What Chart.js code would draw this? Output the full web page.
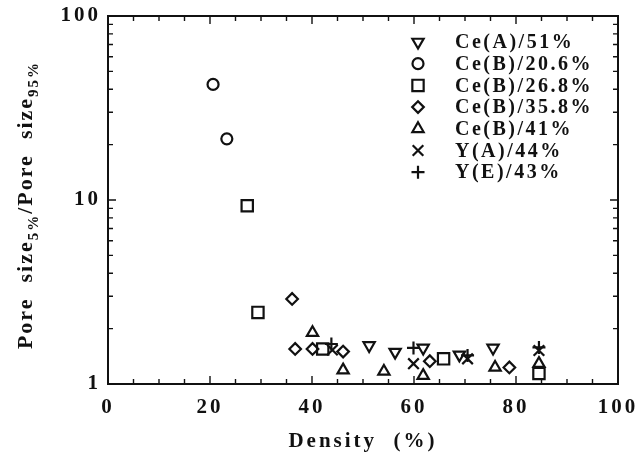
<!DOCTYPE html>
<html>
<head>
<meta charset="utf-8">
<script src="https://cdn.jsdelivr.net/npm/chart.js@4.4.1/dist/chart.umd.min.js"></script>
<style>
  html, body { margin: 0; padding: 0; background: #fff; }
  #wrap { width: 641px; height: 459px; }
</style>
</head>
<body>
<div id="wrap"><canvas id="c" width="641" height="459"></canvas></div>
<script>
// Pore-size spread ratio versus sintered density, one series per powder / porosity
const seriesLabels = ['Ce(A)/51%', 'Ce(B)/20.6%', 'Ce(B)/26.8%', 'Ce(B)/35.8%', 'Ce(B)/41%', 'Y(A)/44%', 'Y(E)/43%'];

// [density %, ratio]
const ceA51  = [[51.2, 1.62], [56.3, 1.49], [61.8, 1.57], [68.9, 1.44], [75.5, 1.57]];
const ceB206 = [[20.6, 42.5], [23.3, 21.5]];
const ceB268 = [[27.3, 9.3], [29.4, 2.45], [42.1, 1.55], [65.8, 1.37], [84.5, 1.14]];
const ceB358 = [[36.1, 2.9], [36.7, 1.55], [40.1, 1.55], [46.1, 1.50], [63.1, 1.33], [78.7, 1.23]];
const ceB41  = [[40.1, 1.9], [46.1, 1.19], [54.1, 1.17], [61.8, 1.11], [75.9, 1.23], [84.5, 1.29]];
const yA44   = [[44.0, 1.53], [59.9, 1.29], [70.5, 1.37], [84.5, 1.52]];
const yE43   = [[43.8, 1.65], [59.9, 1.57], [70.5, 1.43], [84.5, 1.58]];

const xTickLabels = [0, 20, 40, 60, 80, 100];
const yTickLabels = [1, 10, 100];

const seriesData = [ceA51, ceB206, ceB268, ceB358, ceB41, yA44, yE43];
const markers = [
  { pointStyle: 'triangle', rotation: 180, radius: 6.5 },
  { pointStyle: 'circle',   rotation: 0,   radius: 5.5 },
  { pointStyle: 'rect',     rotation: 0,   radius: 8   },
  { pointStyle: 'rectRot',  rotation: 0,   radius: 5.8 },
  { pointStyle: 'triangle', rotation: 0,   radius: 6.5 },
  { pointStyle: 'crossRot', rotation: 0,   radius: 7.5 },
  { pointStyle: 'cross',    rotation: 0,   radius: 6.5 }
];

const SERIF = '"Liberation Serif", "DejaVu Serif", serif';
const INK = '#111';

const datasets = seriesData.map((pts, i) => ({
  label: seriesLabels[i],
  data: pts.map(p => ({ x: p[0], y: p[1] })),
  showLine: false,
  pointStyle: markers[i].pointStyle,
  rotation: markers[i].rotation,
  pointRadius: markers[i].radius,
  pointHoverRadius: markers[i].radius,
  pointBorderWidth: 2.2,
  borderColor: INK,
  backgroundColor: 'rgba(255,255,255,0)'
}));

// letter spacing for the typeset look of the labels
const spacing = {
  id: 'spacing',
  beforeDraw(chart) { chart.ctx.letterSpacing = '3px'; }
};

// frame plus inward ticks on all four sides
const frameTicks = {
  id: 'frameTicks',
  afterDraw(chart) {
    const { ctx, chartArea: a, scales: { x, y } } = chart;
    ctx.save();
    ctx.strokeStyle = INK;
    ctx.lineWidth = 2;
    ctx.strokeRect(a.left, a.top, a.right - a.left, a.bottom - a.top);
    ctx.lineWidth = 1.4;
    ctx.beginPath();
    x.ticks.forEach(t => {
      const px = x.getPixelForValue(t.value);
      const len = (t.value % 20 === 0) ? 8 : 5;
      ctx.moveTo(px, a.bottom); ctx.lineTo(px, a.bottom - len);
      ctx.moveTo(px, a.top);    ctx.lineTo(px, a.top + len);
    });
    y.ticks.forEach(t => {
      const py = y.getPixelForValue(t.value);
      const major = yTickLabels.includes(t.value);
      const len = major ? 8 : 5;
      ctx.moveTo(a.left, py);  ctx.lineTo(a.left + len, py);
      ctx.moveTo(a.right, py); ctx.lineTo(a.right - len, py);
    });
    ctx.stroke();
    ctx.restore();
  }
};

// y-axis title with subscripts
const yTitle = {
  id: 'yTitle',
  afterDraw(chart) {
    const ctx = chart.ctx;
    const parts = [
      { t: 'Pore  size', sub: false },
      { t: '5%', sub: true },
      { t: '/Pore  size', sub: false },
      { t: '95%', sub: true }
    ];
    const mainFont = 'bold 22px ' + SERIF;
    const subFont = 'bold 15px ' + SERIF;
    ctx.save();
    ctx.letterSpacing = '2px';
    let total = 0;
    parts.forEach(p => { ctx.font = p.sub ? subFont : mainFont; p.w = ctx.measureText(p.t).width; total += p.w; });
    const cx = 26, cy = 205;
    ctx.translate(cx, cy);
    ctx.rotate(-Math.PI / 2);
    ctx.fillStyle = INK;
    ctx.textBaseline = 'middle';
    ctx.textAlign = 'left';
    let pos = -total / 2;
    parts.forEach(p => {
      ctx.font = p.sub ? subFont : mainFont;
      ctx.fillText(p.t, pos, p.sub ? 8 : 0);
      pos += p.w;
    });
    ctx.restore();
  }
};

// legend drawn inside the plot, upper right
const insideLegend = {
  id: 'insideLegend',
  afterDraw(chart) {
    const ctx = chart.ctx;
    const mx = 418, tx = 455, y0 = 42, dy = 21.7;
    ctx.save();
    ctx.letterSpacing = '2.5px';
    ctx.font = 'bold 20px ' + SERIF;
    ctx.textBaseline = 'middle';
    ctx.textAlign = 'left';
    seriesLabels.forEach((lab, i) => {
      const yy = y0 + i * dy;
      ctx.strokeStyle = INK;
      ctx.fillStyle = 'rgba(255,255,255,0)';
      ctx.lineWidth = 2.2;
      Chart.helpers.drawPoint(ctx, {
        pointStyle: markers[i].pointStyle,
        rotation: markers[i].rotation,
        radius: markers[i].radius,
        borderWidth: 2.2
      }, mx, yy);
      ctx.fillStyle = INK;
      ctx.fillText(lab, tx, yy + 1);
    });
    ctx.restore();
  }
};

new Chart(document.getElementById('c'), {
  type: 'scatter',
  data: { datasets },
  plugins: [spacing, frameTicks, yTitle, insideLegend],
  options: {
    responsive: false,
    animation: false,
    devicePixelRatio: 1,
    layout: { padding: { top: 16, right: 23, left: 0, bottom: 0 } },
    plugins: { legend: { display: false }, tooltip: { enabled: false } },
    scales: {
      x: {
        type: 'linear',
        min: 0, max: 100,
        afterBuildTicks(s) {
          const t = [];
          for (let v = 0; v <= 100; v += 5) t.push({ value: v });
          s.ticks = t;
        },
        afterFit(s) { s.height = 75; s.paddingLeft = 0; s.paddingRight = 0; },
        grid: { display: false, drawTicks: false },
        border: { display: false },
        ticks: {
          autoSkip: false, maxRotation: 0, padding: 11,
          color: INK,
          font: { family: SERIF, size: 21, weight: 'bold' },
          callback: v => xTickLabels.includes(v) ? String(v) : ''
        },
        title: {
          display: true, text: 'Density  (%)', color: INK,
          font: { family: SERIF, size: 21, weight: 'bold' },
          padding: { top: 0, bottom: 5 }
        }
      },
      y: {
        type: 'logarithmic',
        min: 1, max: 100,
        afterBuildTicks(s) {
          const t = [];
          for (let d = 1; d < 100; d *= 10) for (let m = 1; m < 10; m++) t.push({ value: m * d });
          t.push({ value: 100 });
          s.ticks = t;
        },
        afterFit(s) { s.width = 108; s.paddingTop = 0; s.paddingBottom = 0; },
        grid: { display: false, drawTicks: false },
        border: { display: false },
        ticks: {
          autoSkip: false, padding: 7,
          color: INK,
          font: { family: SERIF, size: 21, weight: 'bold' },
          callback: v => yTickLabels.includes(v) ? String(v) : ''
        }
      }
    }
  }
});
</script>
</body>
</html>
